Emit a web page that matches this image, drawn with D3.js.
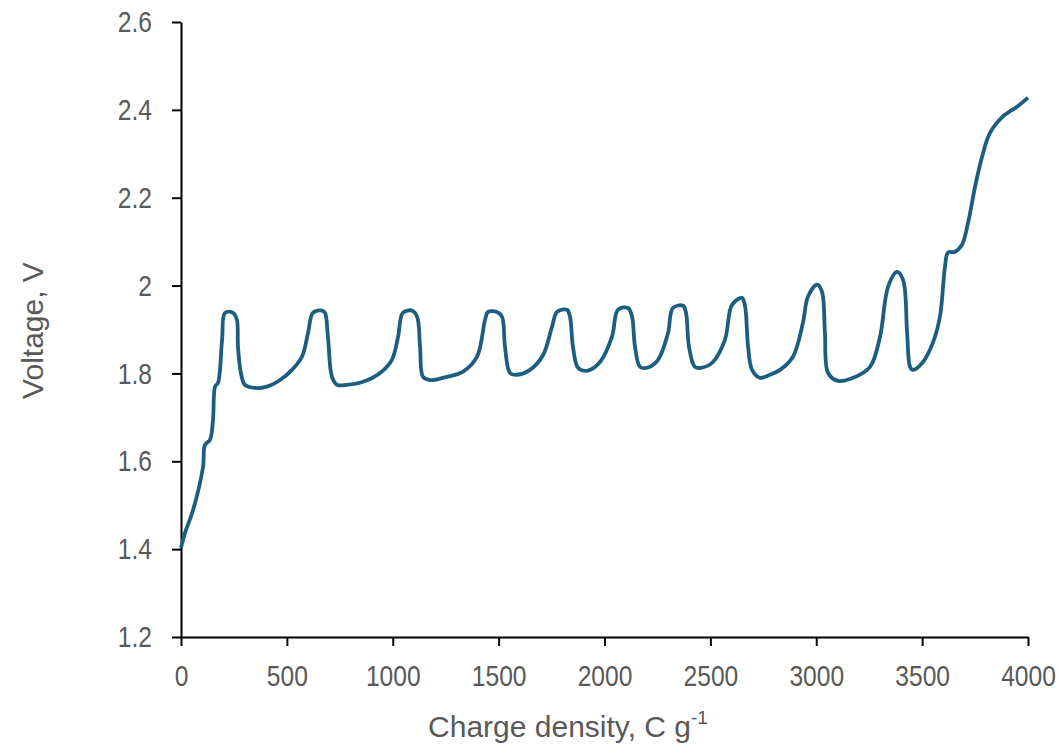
<!DOCTYPE html>
<html>
<head>
<meta charset="utf-8">
<script src="https://cdn.jsdelivr.net/npm/d3@7"></script>
<style>
  body { margin: 0; background: #fff; }
  .axis text { font-family: "Liberation Sans", Arial, sans-serif; font-size: 30px; fill: #595959; }
  .axis path, .axis line { stroke: #000; stroke-width: 2px; }
  .label { font-family: "Liberation Sans", Arial, sans-serif; font-size: 30px; fill: #595959; }
</style>
</head>
<body>
<div id="chart"></div>
<script>
// charge density (C/g) and voltage (V)
var charge = [0, 19, 57, 104, 113, 137, 151, 161, 175, 194, 208, 246, 264, 269, 283, 302, 349, 406, 468, 524, 571, 600, 623, 666, 680, 694, 713, 737, 784, 860, 940, 996, 1025, 1048, 1091, 1115, 1129, 1143, 1176, 1237, 1332, 1398, 1436, 1450, 1492, 1516, 1530, 1554, 1587, 1648, 1710, 1752, 1776, 1823, 1837, 1851, 1875, 1917, 1979, 2035, 2064, 2111, 2130, 2144, 2168, 2201, 2253, 2300, 2323, 2371, 2385, 2399, 2427, 2460, 2512, 2569, 2602, 2649, 2664, 2678, 2697, 2734, 2782, 2829, 2890, 2937, 2961, 3004, 3027, 3041, 3056, 3103, 3174, 3254, 3301, 3339, 3381, 3410, 3429, 3443, 3457, 3504, 3551, 3584, 3608, 3622, 3655, 3688, 3717, 3750, 3783, 3821, 3882, 3948, 4000];
var voltage = [1.403, 1.437, 1.489, 1.587, 1.637, 1.649, 1.694, 1.770, 1.779, 1.877, 1.938, 1.938, 1.922, 1.861, 1.801, 1.774, 1.767, 1.770, 1.785, 1.808, 1.838, 1.892, 1.938, 1.943, 1.938, 1.883, 1.792, 1.774, 1.774, 1.781, 1.801, 1.831, 1.883, 1.938, 1.943, 1.929, 1.861, 1.792, 1.785, 1.790, 1.804, 1.838, 1.922, 1.940, 1.940, 1.929, 1.861, 1.801, 1.797, 1.808, 1.842, 1.906, 1.940, 1.945, 1.929, 1.861, 1.813, 1.806, 1.826, 1.883, 1.945, 1.949, 1.929, 1.861, 1.815, 1.813, 1.831, 1.892, 1.949, 1.954, 1.938, 1.861, 1.815, 1.813, 1.826, 1.877, 1.956, 1.972, 1.952, 1.861, 1.808, 1.790, 1.797, 1.808, 1.838, 1.915, 1.975, 2.002, 1.986, 1.892, 1.801, 1.783, 1.790, 1.815, 1.883, 1.997, 2.031, 2.013, 1.893, 1.815, 1.808, 1.826, 1.870, 1.929, 2.043, 2.075, 2.077, 2.093, 2.143, 2.225, 2.293, 2.348, 2.385, 2.407, 2.428];
var xTicks = [0, 500, 1000, 1500, 2000, 2500, 3000, 3500, 4000];
var yTicks = [1.2, 1.4, 1.6, 1.8, 2, 2.2, 2.4, 2.6];

var margin = {top: 22, right: 31, bottom: 113, left: 181},
    width = 1059 - margin.left - margin.right,
    height = 750 - margin.top - margin.bottom;

var data = charge.map(function(c, i) { return {x: c, y: voltage[i]}; });

var svg = d3.select("#chart").append("svg")
    .attr("width", 1059)
    .attr("height", 750);

var g = svg.append("g")
    .attr("transform", "translate(" + margin.left + "," + margin.top + ")");

var x = d3.scaleLinear().domain([0, 4000]).range([0, width]);
var y = d3.scaleLinear().domain([1.2, 2.6]).range([height, 0]);

// x-axis (tick labels squeezed, the original uses a narrow face)
var xAxisG = g.append("g")
    .attr("class", "axis")
    .attr("transform", "translate(0," + height + ")")
    .call(d3.axisBottom(x).tickValues(xTicks).tickSize(9).tickSizeOuter(0).tickPadding(19).tickFormat(d3.format("d")));
xAxisG.selectAll("text").attr("transform", "scale(0.82,1)");

// y-axis
var yAxisG = g.append("g")
    .attr("class", "axis")
    .call(d3.axisLeft(y).tickValues(yTicks).tickSize(9).tickSizeOuter(0).tickFormat(function(d) { return String(+d.toFixed(1)); }));
yAxisG.selectAll("text")
    .attr("x", 0)
    .attr("transform", "translate(-29,0) scale(0.82,1)");

// the curve
g.append("path")
    .datum(data)
    .attr("fill", "none")
    .attr("stroke", "#1b5e80")
    .attr("stroke-width", 3.8)
    .attr("stroke-linejoin", "round")
    .attr("d", d3.line()
        .x(function(d) { return x(d.x); })
        .y(function(d) { return y(d.y); })
        .curve(d3.curveCatmullRom.alpha(0.5)));

// axis titles
svg.append("text")
    .attr("class", "label")
    .attr("transform", "translate(43," + (margin.top + height / 2 + 1) + ") rotate(-90)")
    .attr("text-anchor", "middle")
    .text("Voltage, V");

var xt = svg.append("text")
    .attr("class", "label")
    .attr("x", 568)
    .attr("y", 737)
    .attr("text-anchor", "middle");
xt.append("tspan").text("Charge density, C g");
xt.append("tspan").attr("dy", -13).style("font-size", "19px").text("-1");
</script>
</body>
</html>
